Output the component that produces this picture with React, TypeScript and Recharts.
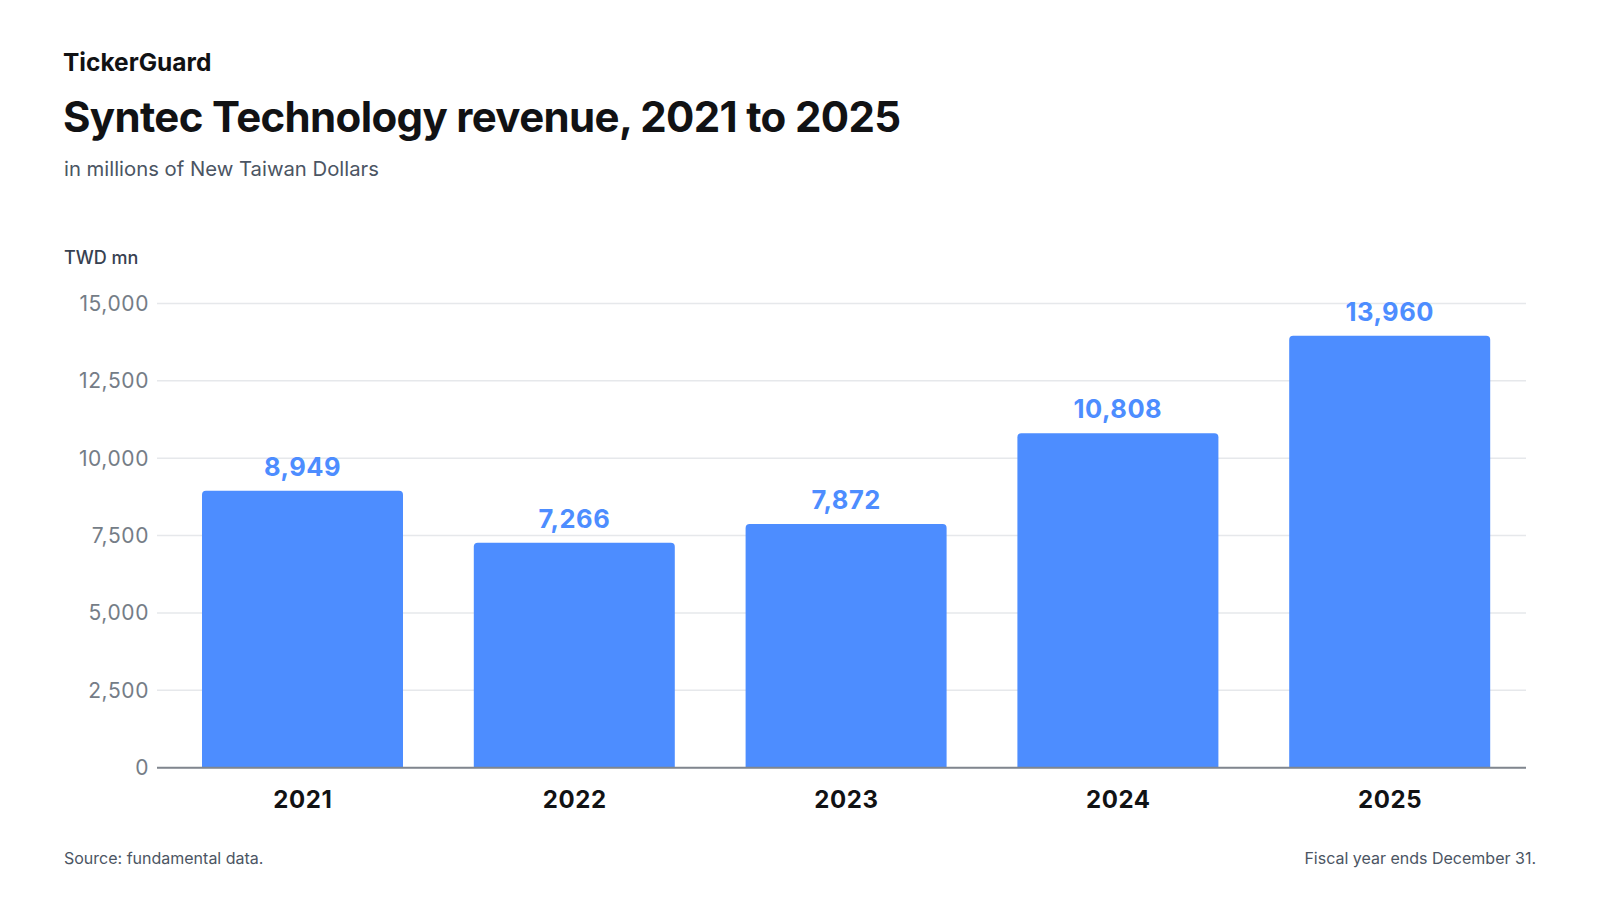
import { Bar, BarChart, CartesianGrid, LabelList, XAxis, YAxis } from "recharts";

const years = ["2021", "2022", "2023", "2024", "2025"];
const revenue = [8949, 7266, 7872, 10808, 13960];
const yTicks = [0, 2500, 5000, 7500, 10000, 12500, 15000];

const COLORS = {
  bar: "#4d8dff",
  grid: "#e6e8eb",
  axis: "#80868e",
  tick: "#757d87",
  ink: "#111214",
  muted: "#4b5563",
};

const FONT = "Inter, 'Noto Sans', sans-serif";

const chartData = years.map((year, i) => ({ year, revenue: revenue[i] }));

const fmt = (v: number) => v.toLocaleString("en-US");

export default function App() {
  return (
    <div
      style={{
        position: "absolute",
        left: 0,
        top: 0,
        width: 1600,
        height: 900,
        background: "#fff",
        fontFamily: FONT,
        overflow: "hidden",
      }}
    >
      <div
        style={{
          position: "absolute",
          left: 63,
          top: 49.5,
          fontSize: 24.5,
          lineHeight: 1,
          fontWeight: 700,
          color: COLORS.ink,
          letterSpacing: 0,
        }}
      >
        TickerGuard
      </div>
      <div
        style={{
          position: "absolute",
          left: 63,
          top: 96,
          fontSize: 42,
          lineHeight: 1,
          fontWeight: 700,
          color: COLORS.ink,
          letterSpacing: -0.65,
          whiteSpace: "nowrap",
        }}
      >
        Syntec Technology revenue, 2021 to 2025
      </div>
      <div
        style={{
          position: "absolute",
          left: 64,
          top: 158.5,
          fontSize: 20.3,
          lineHeight: 1,
          color: COLORS.muted,
        }}
      >
        in millions of New Taiwan Dollars
      </div>
      <div
        style={{
          position: "absolute",
          left: 64,
          top: 248.6,
          fontSize: 18,
          lineHeight: 1,
          fontWeight: 500,
          color: "#374151",
        }}
      >
        TWD mn
      </div>

      <div style={{ position: "absolute", left: 0, top: 0 }}>
        <BarChart
          width={1600}
          height={900}
          data={chartData}
          margin={{ top: 303.5, right: 74, bottom: 102.3, left: 0 }}
        >
          <CartesianGrid vertical={false} stroke={COLORS.grid} strokeWidth={1.5} />
          <YAxis
            width={157}
            domain={[0, 15000]}
            ticks={yTicks}
            tickFormatter={fmt}
            axisLine={false}
            tickLine={false}
            tick={{ fill: COLORS.tick, fontSize: 21, fontFamily: FONT, letterSpacing: 0.6 }}
          />
          <XAxis
            dataKey="year"
            height={30}
            padding={{ left: 10, right: 0 }}
            axisLine={{ stroke: COLORS.axis, strokeWidth: 2 }}
            tickLine={false}
            tickSize={0}
            tickMargin={23}
            tick={{
              fill: COLORS.ink,
              fontSize: 24,
              fontWeight: 700,
              fontFamily: FONT,
              letterSpacing: 0.6,
            }}
          />
          <Bar
            dataKey="revenue"
            fill={COLORS.bar}
            barSize={201}
            radius={[4, 4, 0, 0]}
            isAnimationActive={false}
          >
            <LabelList
              dataKey="revenue"
              position="top"
              offset={15}
              formatter={(v: number) => fmt(v)}
              style={{
                fill: COLORS.bar,
                fontSize: 25.5,
                fontWeight: 700,
                fontFamily: FONT,
                letterSpacing: 0.5,
              }}
            />
          </Bar>
        </BarChart>
      </div>

      <div
        style={{
          position: "absolute",
          left: 64,
          top: 849.5,
          fontSize: 16,
          lineHeight: 1,
          color: COLORS.muted,
        }}
      >
        Source: fundamental data.
      </div>
      <div
        style={{
          position: "absolute",
          right: 64,
          top: 849.5,
          fontSize: 16,
          lineHeight: 1,
          color: COLORS.muted,
        }}
      >
        Fiscal year ends December 31.
      </div>
    </div>
  );
}
